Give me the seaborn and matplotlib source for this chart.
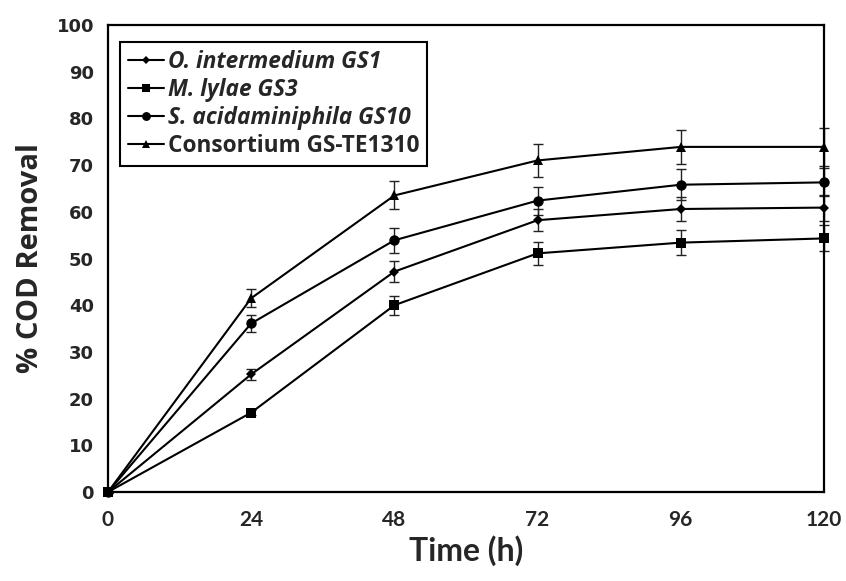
import matplotlib
matplotlib.use("Agg")
import matplotlib.pyplot as plt
import seaborn as sns
import pandas as pd

time_h = [0, 24, 48, 72, 96, 120]
strains = ["O. intermedium GS1", "M. lylae GS3", "S. acidaminiphila GS10", "Consortium GS-TE1310"]
o_intermedium = [0, 25.2, 47.2, 58.2, 60.6, 60.9]
m_lylae = [0, 17.0, 40.0, 51.1, 53.4, 54.3]
s_acid = [0, 36.1, 53.9, 62.4, 65.8, 66.3]
consortium = [0, 41.5, 63.5, 71.0, 73.9, 73.9]
o_intermedium_err = [0, 1.2, 2.3, 2.4, 2.6, 2.8]
m_lylae_err = [0, 0.5, 2.0, 2.4, 2.6, 2.8]
s_acid_err = [0, 1.8, 2.7, 3.0, 3.3, 3.0]
consortium_err = [0, 1.9, 3.0, 3.5, 3.7, 4.0]
x_ticks = [0, 24, 48, 72, 96, 120]
y_ticks = [0, 10, 20, 30, 40, 50, 60, 70, 80, 90, 100]

series = [o_intermedium, m_lylae, s_acid, consortium]
errs = [o_intermedium_err, m_lylae_err, s_acid_err, consortium_err]

rows = []
for name, vals in zip(strains, series):
    for t, v in zip(time_h, vals):
        rows.append({"Time": t, "COD": v, "Strain": name})
df = pd.DataFrame(rows)

sns.set_theme(style="white")
plt.rcParams['font.family'] = ['Open Sans', 'DejaVu Sans']
narrow = ['Lato', 'DejaVu Sans']

fig = plt.figure(figsize=(8.46, 5.81), dpi=100)
ax = fig.add_axes([108/846, 89/581, 716/846, 467/581])

markers = {strains[0]: "D", strains[1]: "s", strains[2]: "o", strains[3]: "^"}
sizes_ms = [5, 7.5, 7.5, 7.5]

for name, vals, e in zip(strains, series, errs):
    ax.errorbar(time_h, vals, yerr=e, fmt='none', ecolor='#222222', elinewidth=1.0,
                capsize=3.5, capthick=1.0, zorder=2, clip_on=False)

n_before = len(ax.lines)
sns.lineplot(data=df, x="Time", y="COD", hue="Strain", style="Strain",
             hue_order=strains, style_order=strains,
             palette=["black"] * 4, markers=markers, dashes=False,
             linewidth=1.5, markersize=7, markeredgewidth=0, ax=ax, zorder=3)

data_lines = ax.lines[n_before:n_before + 4]
for line, ms in zip(data_lines, sizes_ms):
    line.set_markersize(ms)
    line.set_clip_on(False)
    line.set_zorder(4)

ax.set_xlim(0, 120)
ax.set_ylim(0, 100)
ax.set_xticks(x_ticks)
ax.set_yticks(y_ticks)
ax.set_xticklabels([str(t) for t in x_ticks], fontsize=15, fontweight='bold', family=narrow)
ax.set_yticklabels([str(t) for t in y_ticks], fontsize=13, fontweight='bold', family=['DejaVu Sans'])
ax.tick_params(axis='both', direction='out', length=6, width=1, color='#888888', pad=4)
ax.tick_params(axis='x', pad=7)
for s in ax.spines.values():
    s.set_color('black')
    s.set_linewidth(1.6)

ax.set_xlabel("Time (h)", fontsize=23, fontweight='bold', labelpad=4, family=narrow)
ax.set_ylabel("% COD Removal", fontsize=21, fontweight='bold', labelpad=8)

handles, labels = ax.get_legend_handles_labels()
for h, ms in zip(handles, sizes_ms):
    h.set_markersize(ms * 0.85)
leg = ax.legend(handles, labels, loc='upper left', bbox_to_anchor=(12/716, 1 - 17/467),
                frameon=True, fancybox=False, edgecolor='black', framealpha=1,
                fontsize=16.3, handlelength=1.6, handletextpad=0.15,
                labelspacing=0.18, borderpad=0.35, borderaxespad=0)
leg.get_frame().set_linewidth(1.5)
for t in leg.get_texts():
    t.set_fontweight('bold')
    if not t.get_text().startswith("Consortium"):
        t.set_fontstyle('italic')

fig.savefig("out.png", dpi=100)
